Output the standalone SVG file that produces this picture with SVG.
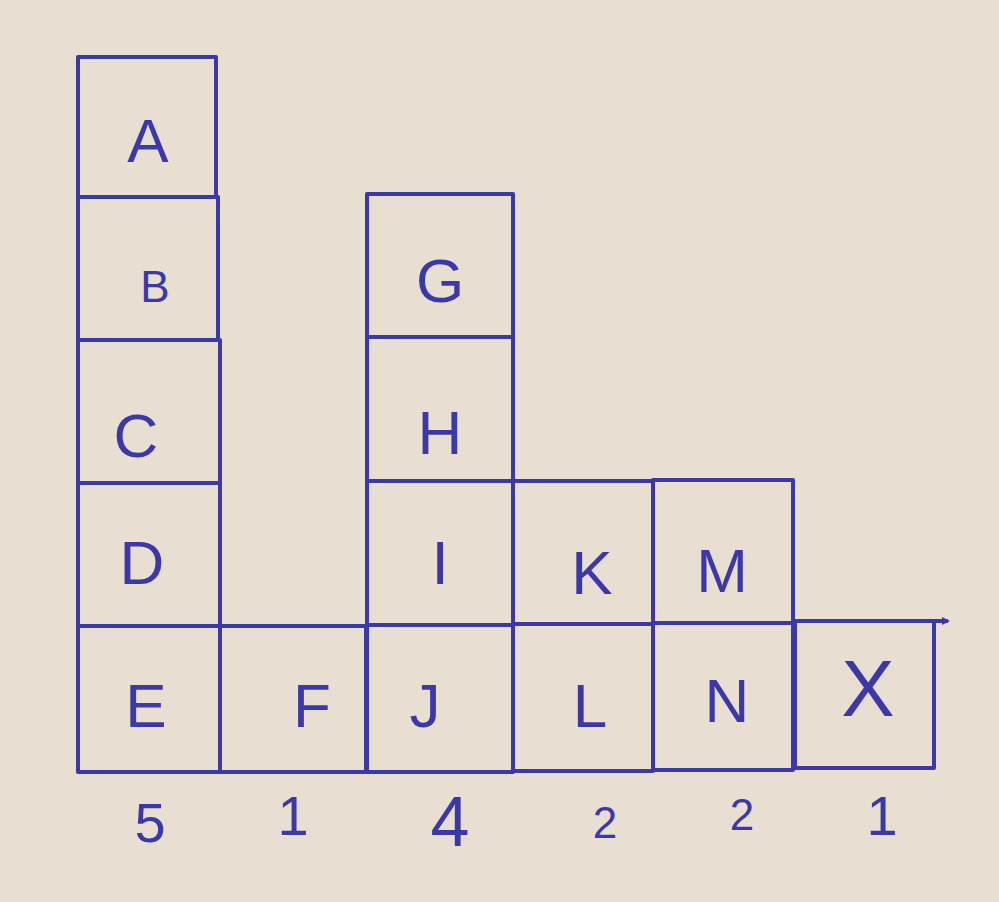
<svg xmlns="http://www.w3.org/2000/svg" width="999" height="902" viewBox="0 0 999 902">
<style>
.cell{fill:none;stroke:#3b38a8;stroke-width:4;stroke-linejoin:round}
.lbl{font-family:"Liberation Sans",Arial,sans-serif;font-size:62px;fill:#3b38a8;text-anchor:middle;dominant-baseline:central}
.num{font-family:"Liberation Sans",Arial,sans-serif;font-size:56px;fill:#3b38a8;text-anchor:middle;dominant-baseline:central}
</style>
<defs>
<marker id="ah" markerWidth="8" markerHeight="8" refX="6" refY="4" orient="auto" markerUnits="userSpaceOnUse"><path d="M0,0 L8,4 L0,8 Z" fill="#3b38a8"/></marker>
</defs>
<rect width="999" height="902" fill="#e8ded2"/>
<g id="A"><rect class="cell" x="78" y="57" width="138" height="140"/><text class="lbl" x="148" y="140">A</text></g>
<g id="B"><rect class="cell" x="78" y="197" width="140" height="143"/><text class="lbl" x="155" y="286" style="font-size:44px">B</text></g>
<g id="C"><rect class="cell" x="78" y="340" width="142" height="143"/><text class="lbl" x="136" y="435">C</text></g>
<g id="D"><rect class="cell" x="78" y="483" width="142" height="143"/><text class="lbl" x="142" y="562">D</text></g>
<g id="E"><rect class="cell" x="78" y="626" width="142" height="146"/><text class="lbl" x="146" y="705">E</text></g>
<g id="F"><rect class="cell" x="220" y="626" width="146" height="146"/><text class="lbl" x="312" y="705">F</text></g>
<g id="G"><rect class="cell" x="367" y="194" width="146" height="143"/><text class="lbl" x="440" y="280">G</text></g>
<g id="H"><rect class="cell" x="367" y="337" width="146" height="144"/><text class="lbl" x="440" y="432">H</text></g>
<g id="I"><rect class="cell" x="367" y="481" width="146" height="144"/><text class="lbl" x="440" y="562">I</text></g>
<g id="J"><rect class="cell" x="367" y="625" width="146" height="147"/><text class="lbl" x="425" y="705">J</text></g>
<g id="K"><rect class="cell" x="513" y="481" width="140" height="143"/><text class="lbl" x="592" y="572">K</text></g>
<g id="L"><rect class="cell" x="513" y="624" width="140" height="147"/><text class="lbl" x="590" y="705">L</text></g>
<g id="M"><rect class="cell" x="653" y="480" width="140" height="143"/><text class="lbl" x="722" y="570">M</text></g>
<g id="N"><rect class="cell" x="653" y="623" width="140" height="147"/><text class="lbl" x="727" y="700">N</text></g>
<g id="X"><rect class="cell" x="795" y="621" width="139" height="147"/><text class="lbl" x="868" y="688" style="font-size:80px">X</text></g>
<g id="connectors"><line x1="934" y1="621" x2="948" y2="621" stroke="#3b38a8" stroke-width="4" marker-end="url(#ah)"/></g>
<g id="counts">
<text class="num" x="150" y="822">5</text>
<text class="num" x="293" y="815">1</text>
<text class="num" x="450" y="822" style="font-size:70px">4</text>
<text class="num" x="605" y="822" style="font-size:44px">2</text>
<text class="num" x="742" y="814" style="font-size:44px">2</text>
<text class="num" x="882" y="815">1</text>
</g>
</svg>
